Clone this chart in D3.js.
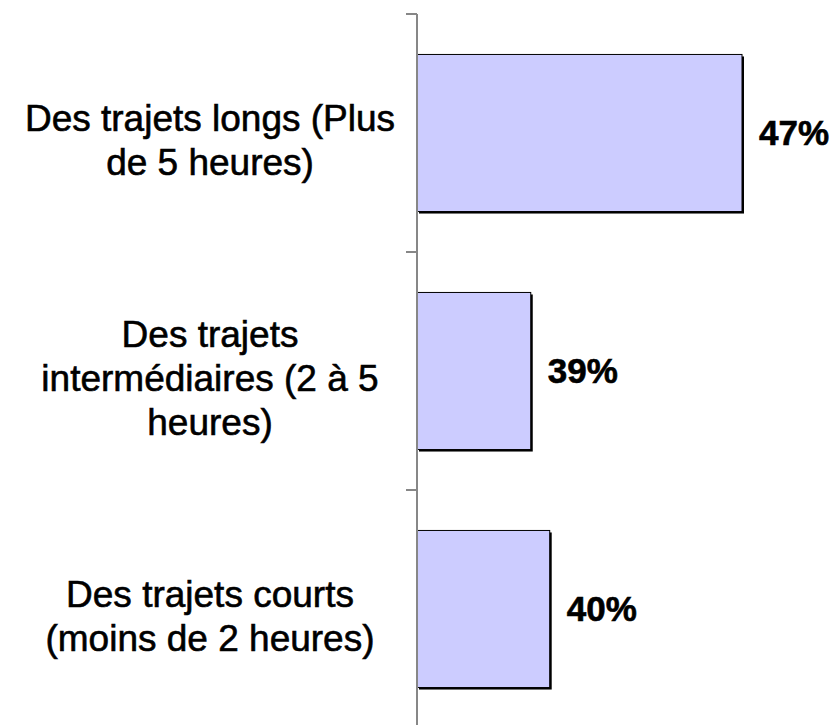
<!DOCTYPE html>
<html lang="fr">
<head>
<meta charset="UTF-8">
<title>Durée des trajets</title>
<script src="https://d3js.org/d3.v7.min.js"></script>
<style>
  body { margin: 0; background: #fff; }
  text { font-family: "Liberation Sans", Arial, sans-serif; fill: #000; }
</style>
</head>
<body>
<div id="chart"></div>
<script>
// -- Données --
const categories = [
  ["Des trajets longs (Plus", "de 5 heures)"],
  ["Des trajets", "intermédiaires (2 à 5", "heures)"],
  ["Des trajets courts", "(moins de 2 heures)"]
];
const valeurs = [46.8, 39.0, 39.7];   // en %, étiquettes arrondies

// -- Dimensions --
const width = 834, height = 725;
const axeX = 417;

const svg = d3.select("#chart").append("svg")
    .attr("width", width)
    .attr("height", height);

const y = d3.scaleBand()
    .domain(d3.range(categories.length))
    .range([14, 728])
    .paddingInner(0.34)
    .paddingOuter(0.17);

const x = d3.scaleLinear()
    .domain([34.8, 46.8])
    .range([axeX, 742]);

// -- ombre des barres --
svg.append("g").selectAll("rect")
    .data(valeurs)
    .join("rect")
    .attr("x", axeX + 2)
    .attr("y", (d, i) => y(i) + 2)
    .attr("width", d => x(d) - axeX)
    .attr("height", y.bandwidth())
    .attr("fill", "#000");

// -- barres --
svg.append("g").selectAll("rect")
    .data(valeurs)
    .join("rect")
    .attr("x", axeX)
    .attr("y", (d, i) => y(i))
    .attr("width", d => x(d) - axeX)
    .attr("height", y.bandwidth())
    .attr("fill", "#CCCCFF")
    .attr("stroke", "#000")
    .attr("stroke-width", 1);

// -- axe vertical --
const gAxe = svg.append("g")
    .attr("transform", `translate(${axeX},0)`);
gAxe.append("line")
    .attr("x1", 0).attr("x2", 0)
    .attr("y1", 14).attr("y2", height)
    .attr("stroke", "#878787").attr("stroke-width", 2);
const bornes = y.domain().map(i => y(i) - y.step() * y.paddingInner() / 2);
gAxe.selectAll(".sep")
    .data(bornes)
    .join("line")
    .attr("class", "sep")
    .attr("x1", -11).attr("x2", 0)
    .attr("y1", d => d).attr("y2", d => d)
    .attr("stroke", "#878787").attr("stroke-width", 2);

// -- étiquettes des valeurs --
svg.append("g").selectAll("text")
    .data(valeurs)
    .join("text")
    .attr("x", d => x(d) + 17)
    .attr("y", (d, i) => y(i) + y.bandwidth() / 2)
    .attr("dy", "0.35em")
    .style("font-size", "35px")
    .style("font-weight", "bold")
    .style("stroke", "#000")
    .style("stroke-width", 0.6)
    .text(d => Math.round(d) + "%");

// -- étiquettes des catégories --
const lh = 44;
const labels = svg.append("g").selectAll("text")
    .data(categories)
    .join("text")
    .attr("text-anchor", "middle")
    .style("font-size", "37px")
    .style("stroke", "#000")
    .style("stroke-width", 0.6);
labels.each(function(lignes, i) {
  const cy = y(i) + y.bandwidth() / 2 + 7;
  const y0 = cy - (lignes.length - 1) * lh / 2;
  d3.select(this).selectAll("tspan")
    .data(lignes)
    .join("tspan")
    .attr("x", 210)
    .attr("y", (d, j) => y0 + j * lh)
    .attr("dy", "0.35em")
    .text(d => d);
});
</script>
</body>
</html>
